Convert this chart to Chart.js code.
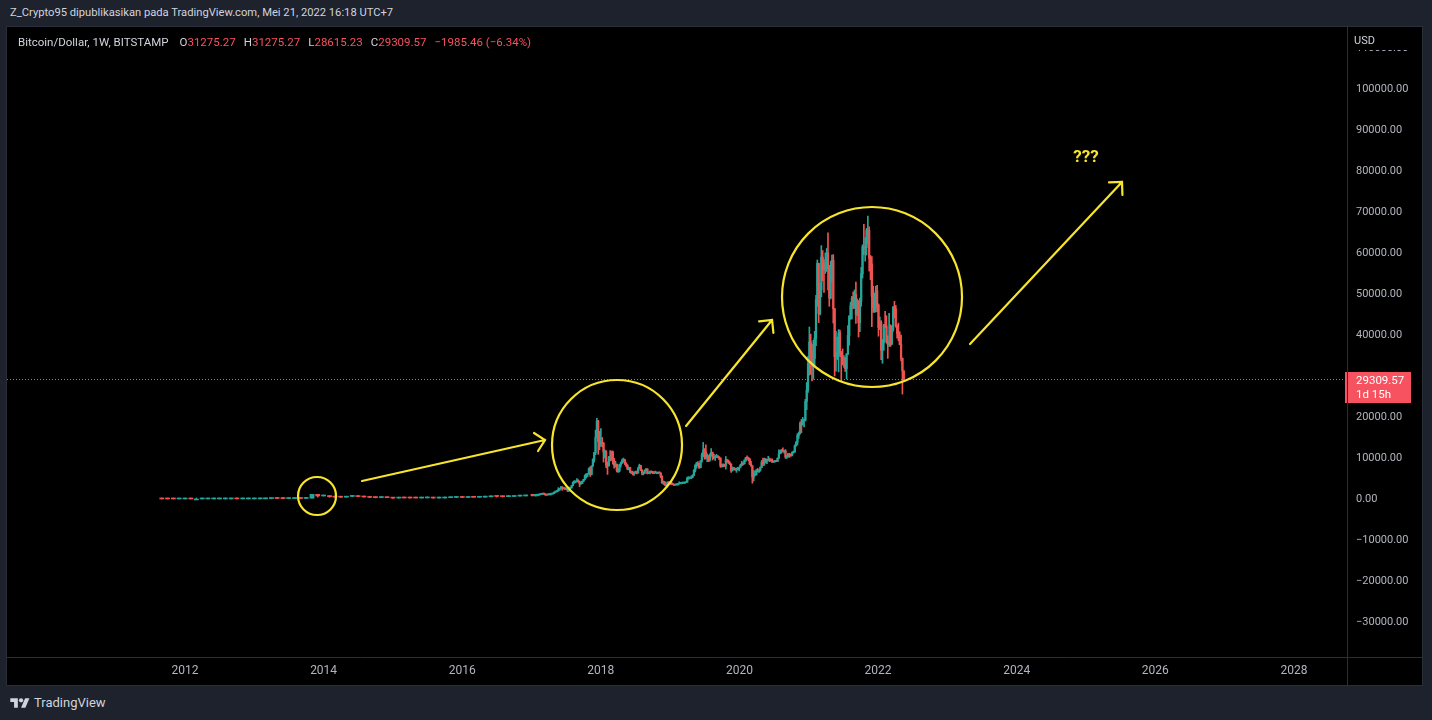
<!DOCTYPE html>
<html>
<head>
<meta charset="utf-8">
<title>Bitcoin/Dollar 1W</title>
<script src="https://cdn.jsdelivr.net/npm/chart.js@4.4.1/dist/chart.umd.min.js"></script>
<style>
  html, body {
    margin: 0;
    padding: 0;
    width: 1432px;
    height: 720px;
    overflow: hidden;
    background: #1e222d;
    font-family: Roboto, "Noto Sans", sans-serif;
  }
  .header {
    position: absolute;
    left: 10px;
    top: 6px;
    font-size: 11.2px;
    color: #d1d4dc;
    white-space: nowrap;
  }
  .panel {
    position: absolute;
    left: 7px;
    top: 27px;
    width: 1415px;
    height: 658px;
    background: #000;
    outline: 1px solid #2a2e39;
  }
  .legend {
    position: absolute;
    left: 11px;
    top: 8px;
    font-size: 11.5px;
    color: #d1d4dc;
    white-space: nowrap;
    z-index: 2;
  }
  .legend .v { color: #f7525f; }
  .legend .gap { margin-left: 8px; }
  .legend .first { margin-left: 11px; }
  .footer {
    position: absolute;
    left: 10px;
    top: 695px;
    display: flex;
    align-items: center;
    color: #d1d4dc;
    font-size: 13px;
  }
  .footer svg { margin-right: 4px; }
</style>
</head>
<body>
<div class="header">Z_Crypto95 dipublikasikan pada TradingView.com, Mei 21, 2022 16:18 UTC+7</div>
<div class="panel">
  <div class="legend">Bitcoin/Dollar, 1W, BITSTAMP<span class="first">O</span><span class="v">31275.27</span><span class="gap">H</span><span class="v">31275.27</span><span class="gap">L</span><span class="v">28615.23</span><span class="gap">C</span><span class="v">29309.57</span><span class="v gap">&minus;1985.46 (&minus;6.34%)</span></div>
  <canvas id="jsBtcCanvas"></canvas>
</div>
<div class="footer">
  <svg width="20" height="14" viewBox="0 0 36 26"><path d="M14 22H7V11H0V4h14v18z" fill="#d1d4dc"/><circle cx="20" cy="8" r="4" fill="#d1d4dc"/><path d="M28 22h-8l7.5-18h8z" fill="#d1d4dc"/></svg>
  <span>TradingView</span>
</div>

<script>
// monthly candles Sep 2011 - Dec 2016 (USD)
const monthStart = Date.UTC(2011, 8, 1);
const monthOpen = 8.2;
const monthCloses = [
  5.1, 3.2, 3.0, 4.7,
  5.5, 4.9, 4.9, 5.0, 5.2, 6.7, 9.3, 10.2, 12.4, 11.2, 12.6, 13.5,
  20.4, 33.4, 93, 139, 129, 97, 106, 135, 133, 198, 1130, 732,
  820, 570, 450, 445, 625, 640, 585, 480, 385, 338, 375, 320,
  217, 254, 244, 236, 230, 263, 284, 230, 236, 314, 377, 430,
  368, 437, 416, 448, 531, 673, 624, 574, 608, 700, 742, 964,
];
const monthHighs = [
  8.5, 5.2, 3.5, 4.8,
  7.2, 6.1, 5.4, 5.3, 5.2, 6.7, 9.4, 16, 12.5, 12.5, 12.6, 13.6,
  20.5, 33.5, 95, 266, 140, 129, 111, 135, 146, 215, 1163, 1150,
  1000, 860, 720, 530, 630, 680, 650, 600, 490, 410, 450, 385,
  320, 265, 300, 300, 248, 268, 317, 285, 245, 330, 500, 465,
  460, 445, 440, 465, 550, 780, 700, 620, 610, 720, 755, 980,
];
const monthLows = [
  4.5, 2.2, 2.0, 2.9,
  4.9, 4.3, 4.7, 4.8, 4.9, 5.2, 6.5, 8, 10, 10.5, 10, 12.5,
  13, 19, 33, 50, 80, 80, 65, 95, 110, 110, 200, 450,
  720, 400, 430, 350, 430, 550, 560, 450, 360, 280, 320, 310,
  150, 210, 240, 215, 225, 220, 255, 200, 220, 235, 310, 350,
  350, 365, 405, 415, 440, 530, 470, 470, 590, 610, 690, 740,
];

// weekly candles from Jan 2 2017 (thousand USD), open = previous close
const weekStart = Date.UTC(2017, 0, 2);
const weekCloses = [
  // 2017
  0.91, 0.83, 0.92, 0.92, 1.01, 1.01, 1.05, 1.17, 1.27, 1.23, 1.03, 0.96, 1.08,
  1.18, 1.18, 1.23, 1.35, 1.72, 1.78, 2.05, 2.20, 2.55, 2.95, 2.54, 2.59, 2.50,
  2.50, 1.92, 2.75, 2.75, 3.25, 4.05, 4.10, 4.35, 4.58, 4.20, 3.70, 3.78, 4.34,
  4.80, 5.70, 6.00, 6.15, 7.40, 5.90, 8.00, 9.70, 11.30, 15.00, 19.00, 14.00, 13.50,
  // 2018
  13.80, 13.60, 11.50, 11.50, 8.20, 8.10, 10.20, 9.60, 11.50, 9.20, 8.20, 8.50, 6.90,
  6.90, 8.30, 8.80, 9.40, 9.60, 8.70, 8.20, 7.35, 7.70, 6.50, 6.50, 6.15, 6.35,
  6.70, 6.35, 7.40, 8.20, 7.00, 6.30, 6.40, 7.00, 7.30, 6.20, 6.50, 6.70, 6.60,
  6.30, 6.45, 6.40, 6.40, 6.40, 6.35, 5.60, 4.00, 4.10, 3.50, 3.25, 4.00, 3.85, 4.05,
  // 2019
  3.60, 3.55, 3.55, 3.42, 3.65, 3.65, 3.80, 3.85, 3.90, 4.00, 4.00, 4.10,
  5.05, 5.05, 5.30, 5.30, 5.70, 7.00, 8.20, 8.75, 8.55, 7.65, 9.30, 10.80, 11.90,
  11.50, 10.15, 10.50, 9.50, 10.80, 11.30, 10.20, 10.10, 10.30,
  10.40, 10.30, 10.00, 8.05, 7.90, 8.30, 8.20, 9.55, 9.20, 8.75, 8.50, 7.05, 7.40,
  7.50, 7.10, 7.50, 7.25, 7.75,
  // 2020
  8.20, 8.70, 8.60, 9.40, 10.10, 9.90, 9.70, 8.50, 8.05, 5.35, 5.85, 5.90, 6.90,
  6.65, 7.10, 7.70, 8.90, 8.70, 9.70, 9.20, 9.45, 9.70, 9.45, 9.30, 9.00, 9.05,
  9.25, 9.15, 9.95, 11.05, 11.70, 11.85, 11.65, 11.70, 10.25, 10.30, 11.05, 10.70, 10.65,
  11.30, 11.50, 13.00, 13.80, 15.50, 16.00, 18.40, 18.20, 19.15, 19.25, 23.80, 26.50, 33.00,
  // 2021
  38.30, 36.00, 32.30, 34.30, 39.20, 48.60, 57.50, 45.20, 51.00, 59.00, 57.50, 55.80, 57.10,
  60.00, 56.20, 49.00, 56.60, 58.20, 46.40, 34.70, 35.60, 35.80, 40.50, 35.60, 34.70, 34.20,
  34.30, 31.80, 35.40, 39.90, 44.60, 47.10, 49.00, 48.80, 49.90, 45.00, 48.30, 43.00, 48.20,
  54.90, 61.50, 61.30, 61.30, 65.50, 65.50, 58.70, 57.30, 49.40, 46.70, 46.70, 50.80, 47.30,
  // 2022
  41.80, 43.10, 36.30, 38.10, 42.40, 42.20, 38.30, 37.70, 38.00, 37.80, 41.30, 46.80, 46.40,
  42.20, 40.40, 39.50, 37.70, 34.30, 31.28, 29.31,
];
const weekHighs = [
  // 2017
  1.13, 0.91, 0.93, 0.93, 1.03, 1.07, 1.06, 1.20, 1.28, 1.33, 1.26, 1.08, 1.10,
  1.21, 1.21, 1.25, 1.37, 1.74, 1.84, 2.10, 2.76, 2.57, 3.00, 2.98, 2.77, 2.60,
  2.70, 2.55, 2.90, 2.85, 3.29, 4.20, 4.48, 4.40, 4.98, 4.70, 4.35, 4.10, 4.38,
  4.82, 5.90, 6.20, 6.20, 7.60, 7.88, 8.10, 9.80, 11.40, 16.80, 19.70, 19.20, 16.50,
  // 2018
  17.20, 15.00, 13.80, 12.00, 11.80, 9.00, 10.40, 11.80, 11.70, 11.70, 9.90, 9.20, 8.50,
  7.50, 8.45, 9.00, 9.75, 9.99, 9.70, 8.85, 8.40, 7.80, 7.75, 6.80, 6.80, 6.50,
  6.80, 6.80, 7.70, 8.50, 8.20, 7.15, 6.60, 7.10, 7.40, 7.40, 6.60, 6.80, 6.80,
  6.70, 6.70, 6.80, 6.50, 6.55, 6.60, 6.40, 5.60, 4.40, 4.30, 3.60, 4.20, 4.25, 4.10,
  // 2019
  4.10, 3.70, 3.65, 3.55, 3.70, 3.70, 4.20, 3.90, 3.95, 4.00, 4.05, 4.15,
  5.35, 5.45, 5.35, 5.65, 5.90, 7.20, 8.40, 8.90, 9.10, 8.70, 9.35, 11.20, 13.80,
  12.30, 13.20, 11.00, 10.60, 11.00, 12.30, 11.45, 10.95, 10.60,
  10.90, 10.45, 10.30, 10.00, 8.50, 8.60, 8.40, 10.35, 9.60, 9.50, 9.10, 8.55, 7.80,
  7.70, 7.50, 7.55, 7.70, 7.80,
  // 2020
  8.45, 9.20, 8.70, 9.60, 10.15, 10.50, 10.20, 9.95, 9.20, 8.15, 6.90, 6.85, 7.20,
  7.45, 7.20, 7.80, 9.40, 10.00, 9.95, 9.90, 9.70, 10.40, 10.00, 9.80, 9.80, 9.30,
  9.45, 9.30, 10.00, 12.00, 11.90, 12.10, 12.45, 11.80, 12.05, 10.60, 11.10, 11.15, 10.95,
  11.50, 11.70, 13.20, 14.00, 15.95, 16.35, 18.80, 19.40, 19.90, 19.40, 24.30, 28.40, 34.80,
  // 2021
  41.95, 40.20, 37.80, 38.70, 40.90, 49.70, 58.30, 57.50, 52.60, 61.80, 60.60, 58.40, 60.00,
  61.10, 64.90, 57.00, 58.00, 59.50, 59.60, 46.50, 40.90, 39.50, 41.30, 41.20, 36.00, 36.60,
  35.00, 34.50, 35.40, 42.30, 44.70, 48.00, 49.40, 50.50, 51.00, 52.90, 48.80, 48.40, 49.00,
  56.50, 62.00, 67.00, 63.70, 66.00, 69.00, 66.40, 59.40, 59.10, 51.90, 50.20, 51.90, 52.10,
  // 2022
  47.60, 44.40, 43.50, 38.90, 42.60, 45.80, 44.70, 39.80, 45.30, 42.50, 42.30, 46.90, 48.20,
  47.20, 42.50, 42.90, 40.80, 40.00, 34.40, 31.28,
];
const weekLows = [
  // 2017
  0.75, 0.76, 0.82, 0.88, 0.92, 0.94, 0.98, 1.05, 1.16, 1.12, 0.95, 0.89, 0.96,
  1.06, 1.15, 1.17, 1.22, 1.35, 1.62, 1.72, 1.85, 2.10, 2.45, 2.10, 2.45, 2.30,
  2.45, 1.83, 1.90, 2.40, 2.65, 3.25, 3.80, 3.95, 4.30, 4.05, 2.97, 3.55, 3.75,
  4.25, 4.78, 5.10, 5.40, 6.10, 5.50, 5.90, 8.00, 9.00, 10.80, 15.00, 10.90, 12.00,
  // 2018
  12.80, 12.70, 9.00, 10.00, 7.60, 6.00, 8.00, 9.30, 9.40, 8.50, 7.50, 7.80, 6.60,
  6.45, 6.60, 7.80, 8.70, 9.00, 8.40, 7.90, 7.10, 7.10, 6.40, 6.20, 5.85, 5.75,
  6.25, 6.10, 6.30, 7.40, 6.90, 5.90, 5.90, 6.20, 6.90, 6.10, 6.20, 6.10, 6.40,
  6.20, 6.20, 6.35, 6.35, 6.30, 6.30, 5.20, 3.80, 3.60, 3.30, 3.20, 3.25, 3.55, 3.70,
  // 2019
  3.50, 3.50, 3.40, 3.35, 3.40, 3.55, 3.65, 3.75, 3.70, 3.85, 3.90, 3.95,
  4.10, 4.95, 5.00, 5.00, 5.20, 5.70, 6.60, 7.50, 8.00, 7.45, 7.60, 9.00, 10.30,
  9.70, 9.80, 9.10, 9.10, 9.20, 10.60, 9.50, 9.80, 9.40,
  10.10, 10.00, 9.60, 7.70, 7.80, 7.80, 7.90, 7.30, 8.95, 8.70, 8.40, 6.50, 6.80,
  7.10, 7.00, 6.50, 7.10, 6.85,
  // 2020
  7.70, 8.10, 8.30, 8.50, 9.15, 9.70, 9.30, 8.40, 8.00, 3.85, 4.40, 5.70, 5.85,
  6.60, 6.50, 6.80, 7.65, 8.10, 8.20, 8.80, 8.60, 9.30, 9.10, 9.20, 8.90, 8.90,
  9.05, 9.10, 9.15, 9.90, 11.00, 11.20, 11.50, 11.20, 9.90, 9.90, 10.20, 10.15, 10.40,
  10.50, 11.20, 11.40, 12.90, 13.20, 14.80, 15.80, 16.20, 18.00, 17.60, 19.00, 21.80, 26.00,
  // 2021
  30.20, 30.40, 28.80, 29.20, 32.30, 37.40, 47.00, 43.00, 44.90, 49.30, 53.20, 50.40, 55.00,
  55.50, 51.00, 47.00, 48.80, 53.00, 42.90, 30.00, 31.20, 34.00, 31.00, 34.80, 28.80, 32.70,
  32.10, 31.10, 29.30, 35.20, 37.50, 43.80, 43.90, 46.40, 46.50, 42.80, 44.70, 39.50, 40.80,
  47.00, 53.90, 59.60, 58.00, 59.50, 62.30, 55.60, 53.50, 42.00, 45.50, 45.50, 45.60, 45.70,
  // 2022
  39.70, 41.30, 34.00, 33.10, 36.30, 41.80, 38.00, 34.30, 37.20, 37.20, 37.60, 40.90, 44.20,
  41.90, 39.20, 38.60, 37.60, 33.70, 25.60, 28.62,
];

const yearTicks = [2012, 2014, 2016, 2018, 2020, 2022, 2024, 2026, 2028];
const priceTicks = [-30000, -20000, -10000, 0, 10000, 20000, 30000, 40000, 50000,
  60000, 70000, 80000, 90000, 100000, 110000];
const lastPrice = 29309.57;
const countdown = "1d 15h";

// drawings on the chart, in (year, price) units; radius in px
const drawCircles = [
  { x: 2013.905, y: 732, r: 19 },
  { x: 2018.233, y: 13171, r: 65 },
  { x: 2021.912, y: 49268, r: 90 },
];
const drawArrows = [
  [[2014.554, 4390], [2017.194, 14390]],
  [[2019.229, 17805], [2020.470, 43659]],
  [[2023.326, 37805], [2025.519, 77317]],
];
const drawText = { x: 2025.0, y: 83171, text: "???" };

const UP = "#26a69a";
const DOWN = "#ef5350";
const PRICE_RED = "#f7525f";
const YELLOW = "#f7e52b";
const DAY = 864e5;

const toYear = (ms) => {
  const y = new Date(ms).getUTCFullYear();
  const start = Date.UTC(y, 0, 1);
  const end = Date.UTC(y + 1, 0, 1);
  return y + (ms - start) / (end - start);
};

const buildCandles = (times, closes, highs, lows, firstOpen, unit) => {
  let prev = firstOpen;
  return closes.map((c, i) => {
    const k = { x: toYear(times[i]), o: prev * unit, h: highs[i] * unit, l: lows[i] * unit, c: c * unit };
    prev = c;
    return k;
  });
};

const monthTimes = monthCloses.map((_, i) => Date.UTC(2011, 8 + i, 1));
const weekTimes = weekCloses.map((_, i) => weekStart + i * 7 * DAY);

const monthCandles = buildCandles(monthTimes, monthCloses, monthHighs, monthLows, monthOpen, 1);
const weekCandles = buildCandles(weekTimes, weekCloses, weekHighs, weekLows,
  monthCloses[monthCloses.length - 1] / 1000, 1000);

const wicks = (list) => list.map((k) => ({ x: k.x, y: [k.l, k.h], up: k.c >= k.o }));
const bodies = (list) => list.map((k) => ({ x: k.x, y: [k.o, k.c], up: k.c >= k.o }));
const candleColor = (ctx) => (ctx.raw && ctx.raw.up ? UP : DOWN);

const candleSet = (data, thickness) => ({
  data,
  barThickness: thickness,
  minBarLength: 1,
  grouped: false,
  borderWidth: 0,
  backgroundColor: candleColor,
});

// price line, drawings, axis frame
const decorPlugin = {
  id: "decor",
  afterDatasetsDraw(chart) {
    const { ctx, chartArea, scales } = chart;
    const xs = scales.x;
    const ys = scales.y;
    const py = Math.round(ys.getPixelForValue(lastPrice));

    ctx.save();
    ctx.beginPath();
    ctx.rect(chartArea.left, chartArea.top, chartArea.right - chartArea.left, chartArea.bottom - chartArea.top);
    ctx.clip();

    // dotted last-price line, one pixel dots
    ctx.fillStyle = PRICE_RED;
    for (let x = chartArea.left; x < chartArea.right; x += 3) {
      ctx.fillRect(x, py, 1, 1);
    }

    ctx.strokeStyle = YELLOW;
    ctx.lineWidth = 2.2;
    drawCircles.forEach((c) => {
      ctx.beginPath();
      ctx.arc(xs.getPixelForValue(c.x), ys.getPixelForValue(c.y), c.r, 0, Math.PI * 2);
      ctx.stroke();
    });

    ctx.lineCap = "round";
    drawArrows.forEach(([a, b]) => {
      const x1 = xs.getPixelForValue(a[0]);
      const y1 = ys.getPixelForValue(a[1]);
      const x2 = xs.getPixelForValue(b[0]);
      const y2 = ys.getPixelForValue(b[1]);
      const ang = Math.atan2(y2 - y1, x2 - x1);
      const head = 13;
      ctx.beginPath();
      ctx.moveTo(x1, y1);
      ctx.lineTo(x2, y2);
      ctx.moveTo(x2 - head * Math.cos(ang - Math.PI / 4), y2 - head * Math.sin(ang - Math.PI / 4));
      ctx.lineTo(x2, y2);
      ctx.lineTo(x2 - head * Math.cos(ang + Math.PI / 4), y2 - head * Math.sin(ang + Math.PI / 4));
      ctx.stroke();
    });

    ctx.fillStyle = YELLOW;
    ctx.font = "bold 17px Roboto, sans-serif";
    ctx.textAlign = "center";
    ctx.textBaseline = "middle";
    ctx.fillText(drawText.text, xs.getPixelForValue(drawText.x), ys.getPixelForValue(drawText.y));
    ctx.restore();
  },
  afterDraw(chart) {
    const { ctx, chartArea, scales, width, height } = chart;
    const py = Math.round(scales.y.getPixelForValue(lastPrice));

    ctx.save();
    // hide most of the top tick behind the currency label
    ctx.fillStyle = "#000";
    ctx.fillRect(chartArea.right + 1, 0, width - chartArea.right - 1, 23);
    ctx.fillStyle = "#d1d4dc";
    ctx.font = "11px Roboto, sans-serif";
    ctx.textBaseline = "middle";
    ctx.fillText("USD", chartArea.right + 7, 14);

    // last price label covers the nearby tick
    ctx.fillStyle = "#000";
    ctx.fillRect(chartArea.right + 1, py - 14, width - chartArea.right - 1, 14);
    ctx.fillStyle = PRICE_RED;
    ctx.fillRect(chartArea.right - 2, py - 7, 66, 31);
    ctx.fillStyle = "#fff";
    ctx.font = "11.5px Roboto, sans-serif";
    ctx.fillText(lastPrice.toFixed(2), chartArea.right + 9, py + 2);
    ctx.fillText(countdown, chartArea.right + 9, py + 16);

    ctx.strokeStyle = "#2a2e39";
    ctx.lineWidth = 1;
    ctx.beginPath();
    ctx.moveTo(chartArea.right + 0.5, 0);
    ctx.lineTo(chartArea.right + 0.5, height);
    ctx.moveTo(0, chartArea.bottom + 0.5);
    ctx.lineTo(width, chartArea.bottom + 0.5);
    ctx.stroke();
    ctx.restore();
  },
};

let btcChart = null;

const btcWeeklyChart = () => {
  const canvas = document.getElementById("jsBtcCanvas").getContext("2d");

  if (btcChart) {
    btcChart.destroy();
  }

  btcChart = new Chart(canvas, {
    type: "bar",
    data: {
      datasets: [
        candleSet(wicks(monthCandles), 1),
        candleSet(bodies(monthCandles), 4.2),
        candleSet(wicks(weekCandles), 1),
        candleSet(bodies(weekCandles), 1.6),
      ],
    },
    options: {
      responsive: true,
      maintainAspectRatio: false,
      animation: false,
      events: [],
      layout: { padding: 0, autoPadding: false },
      plugins: {
        legend: { display: false },
        tooltip: { enabled: false },
      },
      scales: {
        x: {
          type: "linear",
          min: 2009.432,
          max: 2028.765,
          offset: false,
          afterFit: (s) => {
            s.height = 28;
            s.paddingLeft = 0;
            s.paddingRight = 0;
          },
          afterBuildTicks: (s) => { s.ticks = yearTicks.map((v) => ({ value: v })); },
          grid: { display: false, drawTicks: false },
          border: { display: false },
          ticks: {
            color: "#b2b5be",
            font: { family: "'Liberation Sans Narrow', Roboto, sans-serif", size: 12 },
            padding: 7,
            maxRotation: 0,
            autoSkip: false,
            callback: (v) => String(v),
          },
        },
        y: {
          position: "right",
          min: -38540,
          max: 115120,
          afterFit: (s) => {
            s.width = 75;
            s.paddingTop = 0;
            s.paddingBottom = 0;
          },
          afterBuildTicks: (s) => { s.ticks = priceTicks.map((v) => ({ value: v })); },
          grid: { display: false, drawTicks: false },
          border: { display: false },
          ticks: {
            color: "#b2b5be",
            font: { family: "Roboto, sans-serif", size: 11 },
            padding: 9,
            crossAlign: "near",
            callback: (v) => (v < 0 ? "\u2212" + Math.abs(v).toFixed(2) : v.toFixed(2)),
          },
        },
      },
    },
    plugins: [decorPlugin],
  });
};

window.addEventListener("DOMContentLoaded", () => {
  btcWeeklyChart();
});
</script>
</body>
</html>
